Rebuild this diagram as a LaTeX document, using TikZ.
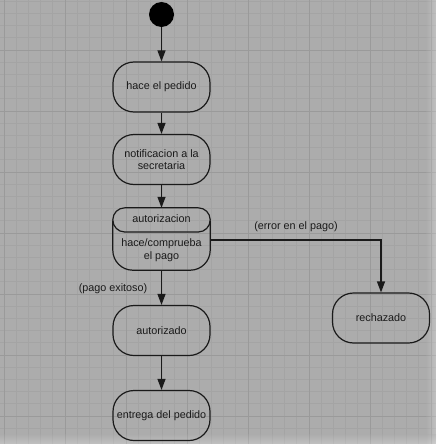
\documentclass[tikz,border=0pt]{standalone}
\usepackage{fontspec}
\setmainfont{Liberation Sans}
\usetikzlibrary{arrows.meta}
\definecolor{canvas}{HTML}{ACACAC}
\definecolor{gridminor}{HTML}{A4A4A4}
\definecolor{gridmajor}{HTML}{9A9A9A}
\definecolor{ink}{HTML}{1A1A1A}
\tikzset{
  state/.style={draw=ink, line width=1.2pt, rounded corners=21pt,
    minimum width=97pt, minimum height=50pt, inner sep=0pt,
    align=center, font=\fontsize{10.8}{12.5}\selectfont, text=ink},
  flow/.style={draw=ink, line width=1.2pt,
    -{Stealth[length=11pt,width=8pt,inset=0pt]}},
  lbl/.style={font=\fontsize{10.8}{12.5}\selectfont, text=ink, inner sep=0pt},
  txt/.style={font=\fontsize{10.8}{13}\selectfont, text=ink, align=center, inner sep=0pt},
}
\begin{document}
\begin{tikzpicture}[x=1pt,y=-1pt]
  % canvas and grid
  \fill[canvas] (0,0) rectangle (436,444);
  \useasboundingbox (0,0) rectangle (436,444);
  \foreach \k in {0,...,35} {
    \draw[gridminor, line width=0.7pt] ({4+12.2*\k},0) -- ({4+12.2*\k},444);
    \draw[gridminor, line width=0.7pt] (0,{1.2+12.2*\k}) -- (436,{1.2+12.2*\k});
  }
  \foreach \k in {-1,...,6} {
    \draw[gridmajor, line width=0.8pt] ({65+61*\k},0) -- ({65+61*\k},444);
    \draw[gridmajor, line width=0.8pt] (0,{50+61*\k}) -- (436,{50+61*\k});
  }
  % soft lighter fade along right and bottom edges
  \shade[left color=canvas, right color=white, opacity=0.25] (426,0) rectangle (436,444);
  \shade[top color=canvas, bottom color=white, opacity=0.25] (0,434) rectangle (436,444);

  % initial state
  \fill[black] (161.5,14.5) circle (12.5);
  \coordinate (start) at (161.5,27);

  % states
  \node[state] (pedido) at (161.5,87) {hace el pedido};
  \node[state] (notif) at (161.5,159.5) {notificacion a la\\secretaria};
  \node[inner sep=0pt, minimum width=97pt, minimum height=62pt] (auth) at (161.5,239) {};
  \node[state] (autorizado) at (161.5,330.5) {autorizado};
  \node[state] (entrega) at (161.5,415.5) {entrega del pedido};
  \node[state] (rechazado) at (381,318) {rechazado};

  % composite state: name compartment over activity body
  \draw[ink, line width=1.2pt, rounded corners=20pt]
    (auth.north west |- 0,221) -- (auth.south west) -- (auth.south east) -- (auth.north east |- 0,221);
  \draw[ink, line width=1.2pt, rounded corners=12pt]
    (auth.north west) rectangle (auth.east |- 0,232);
  \node[txt] at (161.5,219) {autorizacion};
  \node[txt] at (161.5,250) {hace/comprueba\\el pago};

  % transitions
  \draw[flow] (start) -- (pedido);
  \draw[flow] (pedido) -- (notif);
  \draw[flow] (notif) -- (auth);
  \draw[flow] (auth.east |- 0,240) -| (rechazado.north);
  \draw[flow] (auth) -- (autorizado);
  \draw[flow] (autorizado) -- (entrega);

  % guards
  \node[lbl] at (296,227) {(error en el pago)};
  \node[lbl] at (113,289) {(pago exitoso)};
\end{tikzpicture}
\end{document}
